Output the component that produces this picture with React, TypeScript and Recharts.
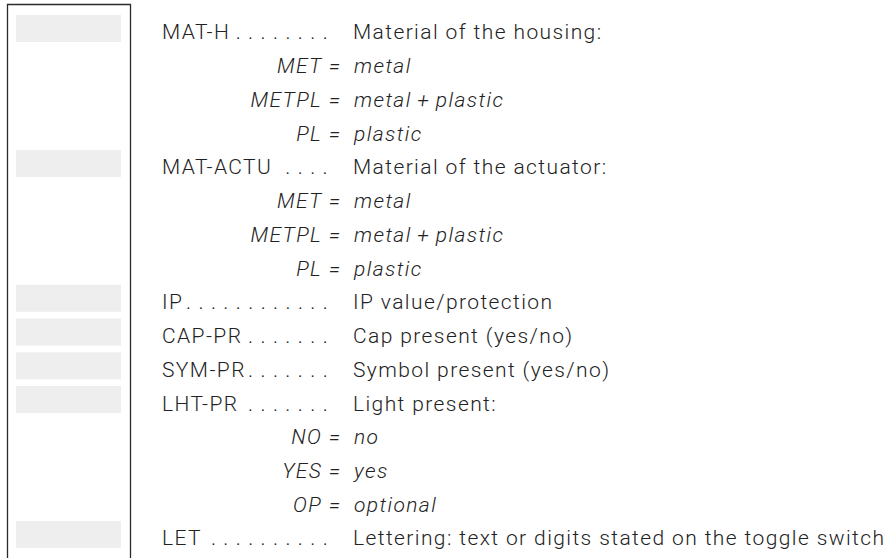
import React from 'react';
import { BarChart, Bar, XAxis, YAxis, Customized } from 'recharts';

// Row content (top to bottom)
const rowIds = ['r0','r1','r2','r3','r4','r5','r6','r7','r8','r9','r10','r11','r12','r13','r14','r15'];
const codes = ['MAT-H','','','','MAT-ACTU','','','','IP','CAP-PR','SYM-PR','LHT-PR','','','','LET'];
const leaderDots = [8,0,0,0,4,0,0,0,12,7,7,7,0,0,0,10];
const descriptions = [
  'Material of the housing:','','','',
  'Material of the actuator:','','','',
  'IP value/protection','Cap present (yes/no)','Symbol present (yes/no)','Light present:',
  '','','','Lettering: text or digits stated on the toggle switch',
];
const optionKeys = ['','MET','METPL','PL','','MET','METPL','PL','','','','','NO','YES','OP',''];
const optionValues = ['','metal','metal\u2009+\u2009plastic','plastic','','metal','metal\u2009+\u2009plastic','plastic','','','','','no','yes','optional',''];
const hasBox = [1,0,0,0,1,0,0,0,1,1,1,1,0,0,0,1];

const data = rowIds.map((id, i) => ({
  id,
  span: 1,
  box: hasBox[i],
  code: codes[i],
  dots: leaderDots[i],
  desc: descriptions[i],
  key: optionKeys[i],
  val: optionValues[i],
}));

const FONT = 'Roboto, "DejaVu Sans", sans-serif';
const TEXT = '#222222';
const LS = 1.4;

const RowShape = (props: any) => {
  const { x, y, width, height, payload } = props;
  const base = y + height - 2.5;
  const dotStep = 12.4;
  const lastDot = 325;
  const common = { fontFamily: FONT, fontSize: 21, fill: TEXT, fontWeight: 300 };
  return (
    <g>
      {payload.box ? <rect x={x} y={y} width={width} height={height} fill="#eeeeee" /> : null}
      {payload.code ? (
        <text x={162} y={base} letterSpacing={LS} {...common}>{payload.code}</text>
      ) : null}
      {payload.dots ? (
        <text
          x={lastDot - 2.5 - (payload.dots - 1) * dotStep}
          y={base}
          letterSpacing={dotStep - 5}
          {...common}
        >
          {'.'.repeat(payload.dots)}
        </text>
      ) : null}
      {payload.desc ? (
        <text x={353} y={base} letterSpacing={LS} {...common}>{payload.desc}</text>
      ) : null}
      {payload.key ? (
        <text x={340 + LS} y={base} textAnchor="end" letterSpacing={LS} fontStyle="italic" {...common}>
          {payload.key + ' ='}
        </text>
      ) : null}
      {payload.val ? (
        <text x={354} y={base} letterSpacing={LS} fontStyle="italic" {...common}>{payload.val}</text>
      ) : null}
    </g>
  );
};

const Frame = () => (
  <path d="M7.5,558 V4.5 H130.5 V558" fill="none" stroke="#2a2a2a" strokeWidth={1.3} />
);

export default function App() {
  return (
    <div style={{ position: 'absolute', left: 0, top: 0, width: 896, height: 558, background: '#ffffff' }}>
      <BarChart
        width={896}
        height={558}
        data={data}
        layout="vertical"
        margin={{ top: 11.6, bottom: 6.7, left: 16, right: 775 }}
        barCategoryGap="10%"
      >
        <XAxis type="number" domain={[0, 1]} hide />
        <YAxis type="category" dataKey="id" hide width={0} />
        <Customized component={Frame} />
        <Bar dataKey="span" isAnimationActive={false} shape={RowShape} />
      </BarChart>
    </div>
  );
}
